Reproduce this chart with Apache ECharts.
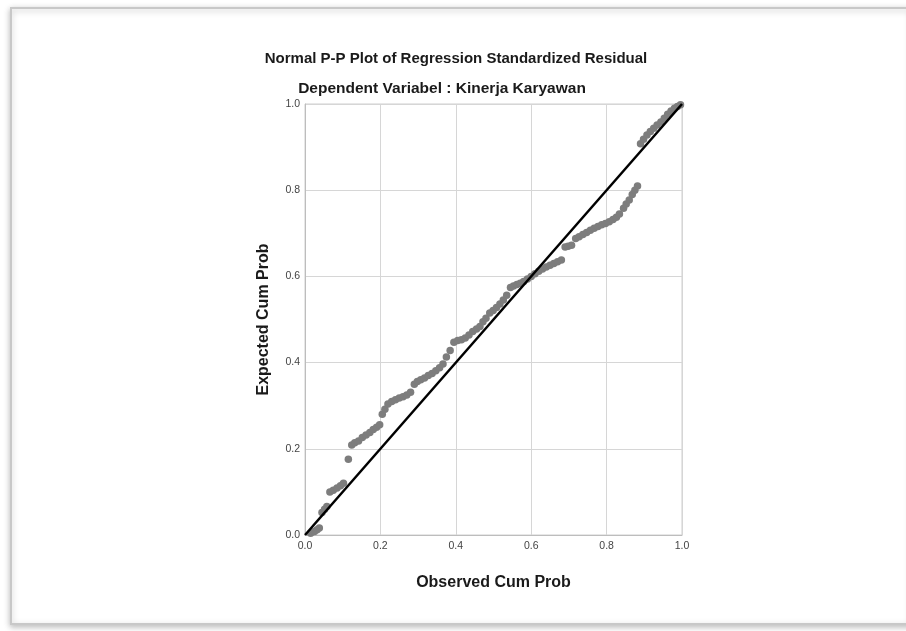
<!DOCTYPE html>
<html>
<head>
<meta charset="utf-8">
<script src="https://cdn.jsdelivr.net/npm/echarts@6/dist/echarts.min.js"></script>
<style>html,body{margin:0;padding:0;background:#fff;}#c{width:906px;height:631px;}</style>
</head>
<body>
<div id="c"></div>
<script>
const titleText = "Normal P-P Plot of Regression Standardized Residual";
const subtitleText = "Dependent Variabel : Kinerja Karyawan";
const xAxisName = "Observed Cum Prob";
const yAxisName = "Expected Cum Prob";
const tickValues = [0.0, 0.2, 0.4, 0.6, 0.8, 1.0];
const observed = [0.015,0.025,0.032,0.038,0.045,0.052,0.058,0.066,0.075,0.085,0.094,0.102,0.115,
0.124,0.132,0.142,0.152,0.162,0.172,0.181,0.19,0.198,0.205,0.212,0.22,0.23,0.24,0.25,0.26,0.27,0.28,
0.29,0.298,0.307,0.317,0.327,0.337,0.347,0.357,0.366,0.375,0.385,0.395,0.405,0.415,0.425,0.435,
0.445,0.455,0.464,0.472,0.48,0.49,0.499,0.508,0.517,0.526,0.535,0.545,0.553,0.562,0.571,0.58,0.59,0.6,
0.61,0.62,0.63,0.64,0.65,0.66,0.67,0.68,0.69,0.698,0.707,0.718,0.727,0.737,0.747,0.757,0.767,0.777,
0.787,0.797,0.807,0.817,0.826,0.834,0.845,0.852,0.86,0.868,0.875,0.882,
0.89,0.898,0.907,0.916,0.925,0.934,0.944,0.953,0.962,0.971,0.98,0.988,0.996];
const expected = [0.004,0.008,0.012,0.016,0.052,0.06,0.066,0.100,0.104,0.109,0.114,0.12,0.176,
0.209,0.214,0.218,0.226,0.232,0.238,0.245,0.25,0.256,0.28,0.292,0.304,0.31,0.314,0.318,0.321,0.325,0.331,
0.35,0.356,0.36,0.364,0.37,0.375,0.381,0.388,0.397,0.413,0.428,0.447,0.451,0.453,0.457,0.464,
0.472,0.478,0.484,0.495,0.503,0.515,0.521,0.528,0.536,0.545,0.556,0.574,0.578,0.581,0.584,0.588,0.594,0.6,
0.606,0.612,0.617,0.622,0.626,0.63,0.634,0.638,0.668,0.67,0.672,0.688,0.692,0.697,0.702,0.707,0.712,0.716,
0.72,0.723,0.727,0.732,0.737,0.745,0.758,0.768,0.777,0.79,0.8,0.81,
0.908,0.918,0.928,0.936,0.944,0.951,0.958,0.967,0.976,0.984,0.99,0.994,0.998];
const refLine = [[0,0],[1,1]];

const points = observed.map((x,i)=>[x, expected[i]]);
const chart = echarts.init(document.getElementById('c'), null, {renderer:'canvas'});
const fontFam = '"Liberation Sans", Arial, sans-serif';
chart.setOption({
  animation:false,
  backgroundColor:'#fff',
  graphic:[
    {type:'rect', left:10, top:7, shape:{width:900, height:616},
     style:{fill:'#fff', stroke:'#c8c8c8', lineWidth:2, shadowBlur:6, shadowColor:'rgba(0,0,0,0.25)', shadowOffsetY:2}, z:-10}
  ],
  title:[
    {text:titleText, left:451, top:46, textAlign:'center',
     textStyle:{fontFamily:fontFam, fontSize:15, fontWeight:'bold', color:'#1a1a1a'}},
    {text:subtitleText, left:437, top:76, textAlign:'center',
     textStyle:{fontFamily:fontFam, fontSize:15.5, fontWeight:'bold', color:'#1a1a1a'}}
  ],
  grid:{left:305, right:224, top:104, bottom:96, show:true, borderColor:'#cfcfcf', borderWidth:1},
  xAxis:{type:'value', min:0, max:1, interval:0.2,
    name:xAxisName, nameLocation:'middle', nameGap:40,
    nameTextStyle:{fontFamily:fontFam, fontSize:16, fontWeight:'bold', color:'#1a1a1a'},
    axisLine:{show:true, lineStyle:{color:'#bdbdbd', width:1}},
    axisTick:{show:false},
    axisLabel:{fontFamily:fontFam, fontSize:10.5, color:'#444', margin:6, formatter:v=>v.toFixed(1)},
    splitLine:{show:true, lineStyle:{color:'#d6d6d6', width:1}}},
  yAxis:{type:'value', min:0, max:1, interval:0.2,
    name:yAxisName, nameLocation:'middle', nameGap:33,
    nameTextStyle:{fontFamily:fontFam, fontSize:16, fontWeight:'bold', color:'#1a1a1a'},
    axisLine:{show:true, lineStyle:{color:'#bdbdbd', width:1}},
    axisTick:{show:false},
    axisLabel:{fontFamily:fontFam, fontSize:10.5, color:'#444', margin:5, formatter:v=>v.toFixed(1)},
    splitLine:{show:true, lineStyle:{color:'#d6d6d6', width:1}}},
  series:[
    {type:'scatter', data:points, symbol:'circle', symbolSize:7.5,
     itemStyle:{color:'#7d7d7d', opacity:1}, z:2, silent:true},
    {type:'line', data:refLine, symbol:'none', lineStyle:{color:'#000', width:2.5}, z:3, silent:true}
  ]
});
</script>
</body>
</html>
